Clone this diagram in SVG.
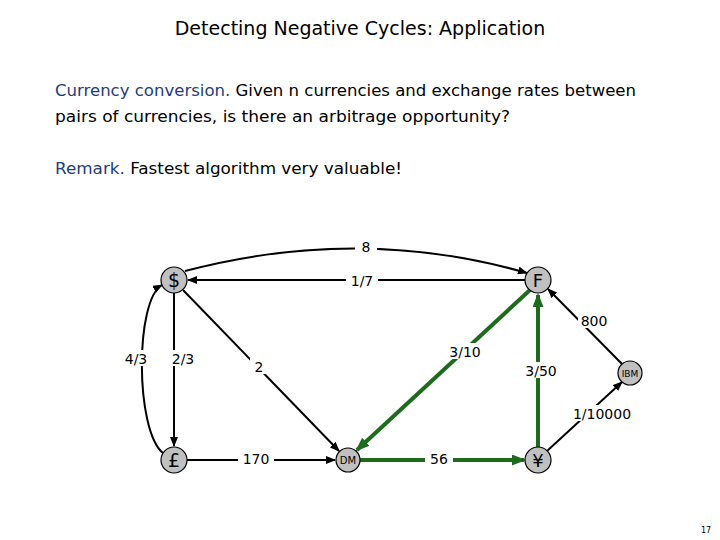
<svg xmlns="http://www.w3.org/2000/svg" width="720" height="540" viewBox="0 0 720 540">
<style>
text{font-family:"DejaVu Sans","Liberation Sans",sans-serif;fill:#000}
.t{font-size:16px}
.b{fill:#1f3d7a}
.e{stroke:#000;stroke-width:2;fill:none;marker-end:url(#ab)}
.g{stroke:#1e6b1e;stroke-width:4;fill:none;marker-end:url(#ag)}
.n{fill:#c0c0c0;stroke:#000;stroke-width:1.2}
.l{font-size:14px;text-anchor:middle}
.nl{text-anchor:middle}
.bg{fill:#fff}
</style>
<defs>
<marker id="ab" markerWidth="10" markerHeight="8" refX="9" refY="4" orient="auto" markerUnits="userSpaceOnUse"><path d="M0,0L10,4L0,8z" fill="#000"/></marker>
<marker id="ag" markerWidth="14" markerHeight="11" refX="12" refY="5.5" orient="auto" markerUnits="userSpaceOnUse"><path d="M0,0L14,5.5L0,11z" fill="#1e6b1e"/></marker>
</defs>
<rect width="720" height="540" fill="#fff"/>
<text x="360" y="35" font-size="19" text-anchor="middle">Detecting Negative Cycles:  Application</text>
<text class="t" x="55" y="96" textLength="581" lengthAdjust="spacingAndGlyphs"><tspan class="b">Currency conversion.</tspan>  Given n currencies and exchange rates between</text>
<text class="t" x="55" y="122" textLength="455" lengthAdjust="spacingAndGlyphs">pairs of currencies, is there an arbitrage opportunity?</text>
<text class="t" x="55" y="174" textLength="347" lengthAdjust="spacingAndGlyphs"><tspan class="b">Remark.</tspan>  Fastest algorithm very valuable!</text>
<g id="connectors">
<path class="e" d="M185,271 Q360,225 527,273"/>
<path class="e" d="M525,280 L188,280"/>
<path class="e" d="M174,293 L174,446"/>
<path class="e" d="M163,453 C135,430 135,300 162,285"/>
<path class="e" d="M183,290 L339,451"/>
<path class="e" d="M187,460 L335,460"/>
<path class="g" d="M530,290 L357,450"/>
<path class="g" d="M360,460 L524,460"/>
<path class="g" d="M538,447 L538,295"/>
<path class="e" d="M547,451 L622,382"/>
<path class="e" d="M622,364 L548,289"/>
<rect class="bg" x="355" y="238" width="22" height="16"/><text class="l" x="366" y="252">8</text>
<rect class="bg" x="346" y="272" width="32" height="16"/><text class="l" x="362" y="286">1/7</text>
<rect class="bg" x="122" y="350" width="28" height="16"/><text class="l" x="136" y="364">4/3</text>
<rect class="bg" x="168" y="350" width="30" height="16"/><text class="l" x="183" y="364">2/3</text>
<rect class="bg" x="250" y="358" width="18" height="16"/><text class="l" x="259" y="372">2</text>
<rect class="bg" x="238" y="450" width="36" height="16"/><text class="l" x="256" y="464">170</text>
<rect class="bg" x="448" y="343" width="34" height="16"/><text class="l" x="465" y="357">3/10</text>
<rect class="bg" x="425" y="450" width="28" height="16"/><text class="l" x="439" y="464">56</text>
<rect class="bg" x="522" y="362" width="38" height="16"/><text class="l" x="541" y="376">3/50</text>
<rect class="bg" x="572" y="405" width="60" height="16"/><text class="l" x="602" y="419">1/10000</text>
<rect class="bg" x="578" y="312" width="32" height="16"/><text class="l" x="594" y="326">800</text>
</g>
<g id="usd"><circle class="n" cx="174" cy="280" r="13"/><text class="nl" x="174" y="287" font-size="19">$</text></g>
<g id="frf"><circle class="n" cx="538" cy="280" r="13"/><text class="nl" x="538" y="287" font-size="18">F</text></g>
<g id="gbp"><circle class="n" cx="174" cy="460" r="13"/><text class="nl" x="174" y="467" font-size="19">£</text></g>
<g id="dm"><circle class="n" cx="348" cy="460" r="12"/><text class="nl" x="348" y="464" font-size="10">DM</text></g>
<g id="jpy"><circle class="n" cx="538" cy="460" r="13"/><text class="nl" x="538" y="467" font-size="18">¥</text></g>
<g id="ibm"><circle class="n" cx="630" cy="373" r="12"/><text class="nl" x="630" y="377" font-size="9">IBM</text></g>
<text x="706" y="533" font-size="8" text-anchor="middle">17</text>
</svg>
